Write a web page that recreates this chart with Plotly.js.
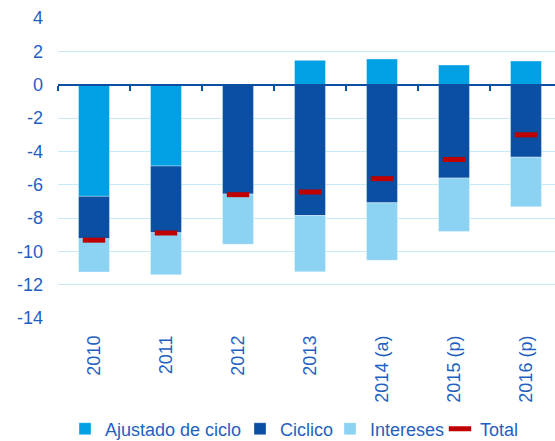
<!DOCTYPE html>
<html>
<head>
<meta charset="utf-8">
<script src="https://cdn.plot.ly/plotly-3.0.1.min.js"></script>
<style>
html,body{margin:0;padding:0;overflow:hidden;background:#fff;}
#chart{width:555px;height:441px;}
</style>
</head>
<body>
<div id="chart"></div>
<script>
const categories = ['2010', '2011', '2012', '2013', '2014 (a)', '2015 (p)', '2016 (p)'];
const ajustado = [-6.70, -4.88, 0, 1.46, 1.54, 1.18, 1.42];
const ciclico = [-2.54, -4.00, -6.56, -7.85, -7.09, -5.60, -4.35];
const intereses = [-2.00, -2.53, -3.02, -3.38, -3.45, -3.21, -2.98];
const total = [-9.33, -8.90, -6.60, -6.44, -5.64, -4.49, -3.01];
const yTicks = [4, 2, 0, -2, -4, -6, -8, -10, -12, -14];

const textBlue = '#1F5FBF';
const font = {family: '"Liberation Sans", Arial, sans-serif', size: 18, color: textBlue};
const xRange = [-0.5, 6.403];

const data = [
  {type: 'bar', name: 'Ajustado de ciclo', x: categories, y: ajustado, legend: 'legend',
   marker: {color: '#00A0E4', line: {color: 'rgba(255,255,255,0.35)', width: 1}}, hoverinfo: 'skip'},
  {type: 'bar', name: 'Ciclico', x: categories, y: ciclico, legend: 'legend2',
   marker: {color: '#0A4FA2', line: {color: 'rgba(255,255,255,0.35)', width: 1}}, hoverinfo: 'skip'},
  {type: 'bar', name: 'Intereses', x: categories, y: intereses, legend: 'legend3',
   marker: {color: '#8BD2F3', line: {color: 'rgba(255,255,255,0.35)', width: 1}}, hoverinfo: 'skip'},
  {type: 'scatter', mode: 'markers', name: 'Total', x: categories, y: total, xaxis: 'x2', legend: 'legend4',
   marker: {symbol: 'line-ew', size: 16, color: '#C00000', line: {color: '#C00000', width: 5}}, hoverinfo: 'skip'}
];

function leg(x) {
  return {orientation: 'h', x: x, xanchor: 'left', y: -0.37, yanchor: 'middle',
          font: font, itemwidth: 30, bgcolor: 'rgba(0,0,0,0)', borderwidth: 0};
}

const layout = {
  width: 555, height: 441,
  margin: {l: 58, r: 0, t: 18, b: 123, autoexpand: false},
  paper_bgcolor: '#fff', plot_bgcolor: '#fff',
  font: font,
  barmode: 'relative',
  bargap: 0.57,
  showlegend: true,
  legend: leg(0.0141),
  legend2: leg(0.3662),
  legend3: leg(0.5473),
  legend4: leg(0.7686),
  xaxis: {type: 'category', categoryorder: 'array', categoryarray: categories,
          range: xRange, showgrid: false, zeroline: false, showline: false, automargin: false,
          ticks: '', tickangle: -90, tickfont: font, ticklabelstandoff: 13, fixedrange: true},
  xaxis2: {type: 'category', categoryorder: 'array', categoryarray: categories,
           range: xRange, overlaying: 'x', anchor: 'free', position: 14 / 18,
           side: 'bottom', showticklabels: false, showgrid: false, zeroline: false,
           showline: true, linecolor: '#0A4FA2', linewidth: 2,
           ticks: 'outside', tickson: 'boundaries', ticklen: 5, tickwidth: 2, tickcolor: '#0A4FA2',
           fixedrange: true},
  yaxis: {range: [-14, 4], tickvals: yTicks, ticktext: yTicks.map(String), automargin: false,
          showgrid: true, gridcolor: '#C8E9F8', gridwidth: 1,
          zeroline: false, showline: false, ticks: '', tickfont: font,
          ticklabelstandoff: 14, fixedrange: true}
};

Plotly.newPlot('chart', data, layout, {displayModeBar: false, staticPlot: true});
</script>
</body>
</html>
